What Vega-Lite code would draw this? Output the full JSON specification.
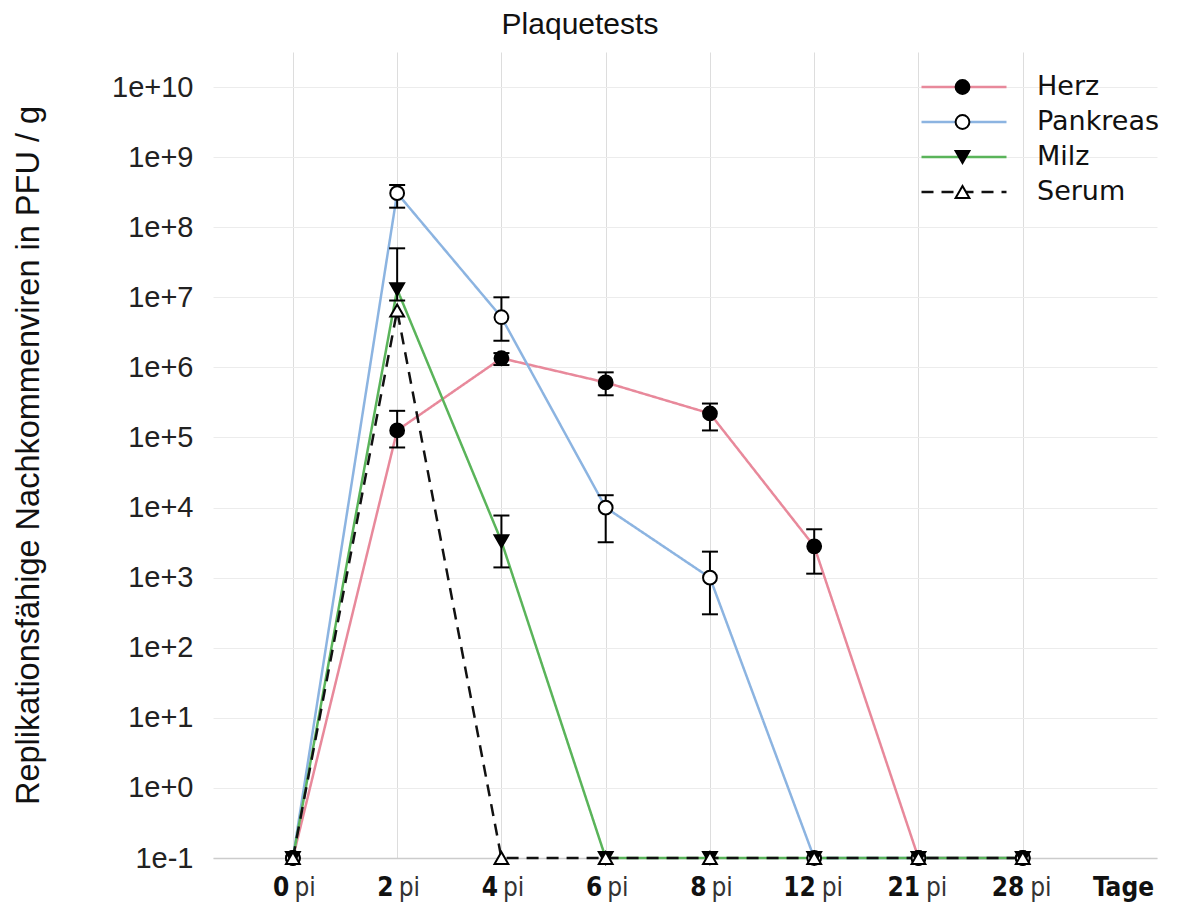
{
  "$schema": "https://vega.github.io/schema/vega-lite/v6.json",
  "width": 944,
  "height": 806,
  "autosize": {"type": "none"},
  "padding": {"left": 213, "top": 52, "right": 21, "bottom": 47},
  "background": "white",
  "title": {"text": "Plaquetests", "font": "Liberation Sans", "fontSize": 30, "fontWeight": "normal", "color": "#111111", "anchor": "middle", "dx": -105, "offset": 12},
  "config": {"view": {"stroke": null}},
  "data": {
    "values": [
      {"organ": "Herz", "tag": 0, "wert": 0.1},
      {"organ": "Herz", "tag": 2, "wert": 126000, "unten": 72000, "oben": 240000},
      {"organ": "Herz", "tag": 4, "wert": 1350000, "unten": 1080000, "oben": 1600000},
      {"organ": "Herz", "tag": 6, "wert": 610000, "unten": 400000, "oben": 850000},
      {"organ": "Herz", "tag": 8, "wert": 220000, "unten": 126000, "oben": 305000},
      {"organ": "Herz", "tag": 12, "wert": 2800, "unten": 1140, "oben": 4900},
      {"organ": "Herz", "tag": 21, "wert": 0.1},
      {"organ": "Herz", "tag": 28, "wert": 0.1},
      {"organ": "Pankreas", "tag": 0, "wert": 0.1},
      {"organ": "Pankreas", "tag": 2, "wert": 306000000, "unten": 190000000, "oben": 400000000},
      {"organ": "Pankreas", "tag": 4, "wert": 5200000, "unten": 2400000, "oben": 10000000},
      {"organ": "Pankreas", "tag": 6, "wert": 10000, "unten": 3200, "oben": 15000},
      {"organ": "Pankreas", "tag": 8, "wert": 1000, "unten": 300, "oben": 2350},
      {"organ": "Pankreas", "tag": 12, "wert": 0.1},
      {"organ": "Pankreas", "tag": 21, "wert": 0.1},
      {"organ": "Pankreas", "tag": 28, "wert": 0.1},
      {"organ": "Milz", "tag": 0, "wert": 0.1},
      {"organ": "Milz", "tag": 2, "wert": 13000000, "unten": 9000000, "oben": 50000000},
      {"organ": "Milz", "tag": 4, "wert": 3300, "unten": 1400, "oben": 7700},
      {"organ": "Milz", "tag": 6, "wert": 0.1},
      {"organ": "Milz", "tag": 8, "wert": 0.1},
      {"organ": "Milz", "tag": 12, "wert": 0.1},
      {"organ": "Milz", "tag": 21, "wert": 0.1},
      {"organ": "Milz", "tag": 28, "wert": 0.1},
      {"organ": "Serum", "tag": 0, "wert": 0.1},
      {"organ": "Serum", "tag": 2, "wert": 6500000},
      {"organ": "Serum", "tag": 4, "wert": 0.1},
      {"organ": "Serum", "tag": 6, "wert": 0.1},
      {"organ": "Serum", "tag": 8, "wert": 0.1},
      {"organ": "Serum", "tag": 12, "wert": 0.1},
      {"organ": "Serum", "tag": 21, "wert": 0.1},
      {"organ": "Serum", "tag": 28, "wert": 0.1}
    ]
  },
  "resolve": {"axis": {"x": "independent"}},
  "layer": [
    {
      "mark": {"type": "line", "strokeWidth": 2.5},
      "encoding": {
        "x": {
          "field": "tag", "type": "ordinal",
          "scale": {"type": "point", "domain": [0, 2, 4, 6, 8, 12, 21, 28, "Tage"], "padding": 0.527, "align": 0.727},
          "axis": {
            "orient": "bottom", "title": null, "ticks": false, "domain": true, "domainColor": "#cccccc", "domainWidth": 1.5,
            "grid": true, "gridColor": {"condition": {"test": "datum.value === 'Tage'", "value": "transparent"}, "value": "#dddddd"},
            "labelAngle": 0, "labelOverlap": false,
            "labelFont": "Liberation Sans Narrow, DejaVu Sans Condensed, Liberation Sans", "labelFontWeight": "bold", "labelFontSize": 26, "labelColor": "#111111",
            "labelAlign": {"condition": {"test": "datum.value === 'Tage'", "value": "center"}, "value": "right"},
            "labelOffset": {"condition": {"test": "datum.value >= 10", "value": 1}, "value": -4},
            "labelPadding": 16
          }
        },
        "y": {
          "field": "wert", "type": "quantitative",
          "scale": {"type": "log", "domain": [0.1, 31622776601.7], "nice": false},
          "title": "Replikationsfähige Nachkommenviren in PFU / g",
          "axis": {
            "values": [0.1, 1, 10, 100, 1000, 10000, 100000, 1000000, 10000000, 100000000, 1000000000, 10000000000],
            "labelExpr": "'1e' + (round(log(datum.value)/LN10) < 0 ? '' : '+') + round(log(datum.value)/LN10)",
            "ticks": false, "domain": false, "grid": true, "gridColor": "#ececec",
            "labelFont": "Liberation Sans", "labelFontSize": 29, "labelColor": "#222222", "labelPadding": 20,
            "titleFont": "Liberation Sans", "titleFontSize": 32.5, "titleFontWeight": "normal", "titleColor": "#111111", "titlePadding": 66
          }
        },
        "color": {
          "field": "organ", "type": "nominal",
          "scale": {"domain": ["Herz", "Pankreas", "Milz", "Serum"], "range": ["#e8899b", "#8cb4e1", "#5ab45a", "#111111"]},
          "legend": {
            "orient": "none", "legendX": 707, "legendY": 17.5, "title": null, "symbolType": "stroke", "symbolSize": 7225, "symbolStrokeWidth": 2.5,
            "labelFont": "DejaVu Sans", "labelFontSize": 27, "labelColor": "#111111", "labelOffset": 29, "clipHeight": 35, "rowPadding": 0, "padding": 0
          }
        },
        "strokeDash": {
          "field": "organ", "type": "nominal",
          "scale": {"domain": ["Herz", "Pankreas", "Milz", "Serum"], "range": [[1, 0], [1, 0], [1, 0], [12, 8]]}
        },
        "strokeWidth": {
          "field": "organ", "type": "nominal",
          "scale": {"domain": ["Herz", "Pankreas", "Milz", "Serum"], "range": [2.4, 2.4, 2.4, 3.2]},
          "legend": null
        }
      }
    },
    {
      "mark": {"type": "rule", "color": "black", "strokeWidth": 2},
      "encoding": {
        "x": {"field": "tag", "type": "ordinal", "axis": null},
        "y": {"field": "unten", "type": "quantitative", "title": "Replikationsfähige Nachkommenviren in PFU / g"},
        "y2": {"field": "oben"}
      }
    },
    {
      "mark": {"type": "tick", "color": "black", "size": 16, "thickness": 2, "opacity": 1},
      "encoding": {
        "x": {"field": "tag", "type": "ordinal", "axis": null},
        "y": {"field": "unten", "type": "quantitative", "title": "Replikationsfähige Nachkommenviren in PFU / g"}
      }
    },
    {
      "mark": {"type": "tick", "color": "black", "size": 16, "thickness": 2, "opacity": 1},
      "encoding": {
        "x": {"field": "tag", "type": "ordinal", "axis": null},
        "y": {"field": "oben", "type": "quantitative", "title": "Replikationsfähige Nachkommenviren in PFU / g"}
      }
    },
    {
      "mark": {"type": "point", "filled": true, "stroke": "black", "strokeWidth": 2, "opacity": 1, "size": 190},
      "encoding": {
        "x": {
          "field": "tag", "type": "ordinal",
          "axis": {
            "orient": "bottom", "title": null, "ticks": false, "domain": false, "grid": false, "labelAngle": 0, "labelOverlap": false,
            "labelExpr": "datum.value === 'Tage' ? '' : 'pi'",
            "labelFont": "Liberation Sans Narrow, DejaVu Sans Condensed, Liberation Sans", "labelFontWeight": "normal", "labelFontSize": 26, "labelColor": "#333333",
            "labelAlign": "left",
            "labelOffset": {"condition": {"test": "datum.value >= 10", "value": 7}, "value": 1},
            "labelPadding": 16
          }
        },
        "y": {"field": "wert", "type": "quantitative", "title": "Replikationsfähige Nachkommenviren in PFU / g"},
        "stroke": {"value": "black"},
        "shape": {
          "field": "organ", "type": "nominal", "sort": null,
          "scale": {"range": ["circle", "circle", "triangle-down", "triangle-up"]},
          "legend": {
            "orient": "none", "legendX": 736, "legendY": 17.5, "title": null, "labelOpacity": 0, "labelFontSize": 27,
            "symbolStrokeColor": "black", "symbolStrokeWidth": 2, "symbolSize": 190, "symbolOpacity": 1, "clipHeight": 35, "rowPadding": 0, "padding": 0,
            "encode": {"symbols": {"update": {"stroke": {"value": "black"}, "strokeWidth": {"value": 2}}}}
          }
        },
        "fill": {
          "field": "organ", "type": "nominal", "sort": null,
          "scale": {"range": ["black", "white", "black", "white"]},
          "legend": {
            "orient": "none", "legendX": 736, "legendY": 17.5, "title": null, "labelOpacity": 0, "labelFontSize": 27,
            "symbolStrokeColor": "black", "symbolStrokeWidth": 2, "symbolSize": 190, "symbolOpacity": 1, "clipHeight": 35, "rowPadding": 0, "padding": 0,
            "encode": {"symbols": {"update": {"stroke": {"value": "black"}, "strokeWidth": {"value": 2}}}}
          }
        }
      }
    }
  ]
}
